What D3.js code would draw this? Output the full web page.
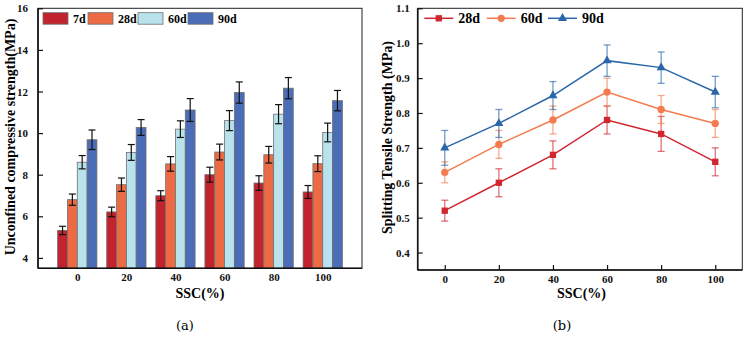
<!DOCTYPE html>
<html><head><meta charset="utf-8">
<script src="https://cdn.jsdelivr.net/npm/d3@7"></script>
<style>body{margin:0;background:#fff}svg{display:block}</style>
</head><body>
<script>
const ssc = [0, 20, 40, 60, 80, 100];
// (a) UCS bars
const ucsSeries = ["7d", "28d", "60d", "90d"];
const ucs7 = [5.32, 6.21, 6.99, 8.0, 7.6, 7.17];
const ucs7err = [0.2, 0.23, 0.24, 0.36, 0.35, 0.31];
const ucs28 = [6.8, 7.52, 8.52, 9.09, 8.96, 8.53];
const ucs28err = [0.27, 0.32, 0.35, 0.38, 0.4, 0.38];
const ucs60 = [8.6, 9.07, 10.19, 10.6, 10.91, 10.03];
const ucs60err = [0.32, 0.38, 0.4, 0.48, 0.46, 0.45];
const ucs90 = [9.68, 10.27, 11.11, 11.95, 12.16, 11.56];
const ucs90err = [0.47, 0.38, 0.55, 0.51, 0.51, 0.49];
const ucsTicks = [4, 6, 8, 10, 12, 14, 16];
const ucsColors = ["#c1232f", "#ec6b45", "#b8e3ed", "#4b6cb6"];
// (b) splitting tensile
const stsSeries = ["28d", "60d", "90d"];
const sts28 = [0.52, 0.60, 0.68, 0.78, 0.74, 0.66];
const sts28err = [0.03, 0.04, 0.04, 0.04, 0.05, 0.04];
const sts60 = [0.63, 0.71, 0.78, 0.86, 0.81, 0.77];
const sts60err = [0.03, 0.04, 0.04, 0.04, 0.04, 0.04];
const sts90 = [0.70, 0.77, 0.85, 0.95, 0.93, 0.86];
const sts90err = [0.05, 0.04, 0.04, 0.045, 0.045, 0.045];
const stsTicks = [0.4, 0.5, 0.6, 0.7, 0.8, 0.9, 1.0, 1.1];
const stsColors = ["#d0262f", "#f47b4f", "#2a67aa"];

const W = 747, H = 338;
const svg = d3.select("body").append("svg").attr("width", W).attr("height", H);
const FONT = "'Liberation Serif','Times New Roman',serif";

function frame(g, x0, x1, y0, y1) {
  g.append("rect").attr("x", x0).attr("y", y0).attr("width", x1 - x0).attr("height", y1 - y0)
    .attr("fill", "none").attr("stroke", "#222").attr("stroke-width", 1);
  g.append("line").attr("x1", x0).attr("x2", x0).attr("y1", y0).attr("y2", y1).attr("stroke", "#111").attr("stroke-width", 1.6);
  g.append("line").attr("x1", x0).attr("x2", x1).attr("y1", y1).attr("y2", y1).attr("stroke", "#111").attr("stroke-width", 1.6);
}

// ---------- Chart (a) ----------
{
  const L = 38, R = 362, T = 8.3, B = 268.3;
  const x = d3.scaleLinear().domain([-16, 116]).range([L, R]);
  const y = d3.scaleLinear().domain([3.5, 16]).range([B, T]);
  const g = svg.append("g");
  const vals = [ucs7, ucs28, ucs60, ucs90];
  const errs = [ucs7err, ucs28err, ucs60err, ucs90err];
  const bw = x(4) - x(0);
  vals.forEach((arr, si) => {
    arr.forEach((v, i) => {
      const cx = x(ssc[i]) + (si - 2) * bw;
      g.append("rect").attr("x", cx).attr("y", y(v)).attr("width", bw).attr("height", y(3.5) - y(v))
        .attr("fill", ucsColors[si]).attr("stroke", "#6f6f6f").attr("stroke-width", 0.8);
    });
  });
  vals.forEach((arr, si) => {
    arr.forEach((v, i) => {
      const cx = x(ssc[i]) + (si - 2) * bw + bw / 2;
      const e = errs[si][i];
      g.append("line").attr("x1", cx).attr("x2", cx).attr("y1", y(v - e)).attr("y2", y(v + e)).attr("stroke", "#111").attr("stroke-width", 1.2);
      [v - e, v + e].forEach(t => g.append("line").attr("x1", cx - 3.5).attr("x2", cx + 3.5).attr("y1", y(t)).attr("y2", y(t)).attr("stroke", "#111").attr("stroke-width", 1.2));
    });
  });
  frame(g, L, R, T, B);
  const ya = g.append("g").attr("transform", `translate(${L},0)`)
    .call(d3.axisLeft(y).tickValues(ucsTicks).tickSize(-5).tickPadding(10).tickFormat(d3.format("d")));
  ya.select(".domain").remove();
  ya.selectAll("line").attr("stroke", "#111").attr("stroke-width", 1.2);
  ya.selectAll("text").attr("font-family", FONT).attr("font-weight", "bold").attr("font-size", 11).attr("fill", "#111");
  const xa = g.append("g").attr("transform", `translate(0,${B})`)
    .call(d3.axisBottom(x).tickValues(ssc).tickSize(0).tickPadding(5).tickFormat(d3.format("d")));
  xa.select(".domain").remove();
  xa.selectAll("text").attr("font-family", FONT).attr("font-weight", "bold").attr("font-size", 11).attr("fill", "#111");
  g.append("text").attr("x", 200).attr("y", 298).attr("text-anchor", "middle")
    .attr("font-family", FONT).attr("font-weight", "bold").attr("font-size", 14).text("SSC(%)");
  g.append("text").attr("transform", `translate(15,137) rotate(-90)`).attr("text-anchor", "middle")
    .attr("font-family", FONT).attr("font-weight", "bold").attr("font-size", 14).text("Unconfined compressive strength(MPa)");
  // legend
  const lx = [43, 88, 138, 188];
  ucsSeries.forEach((s, i) => {
    g.append("rect").attr("x", lx[i]).attr("y", 12.7).attr("width", 25).attr("height", 11.5)
      .attr("fill", ucsColors[i]).attr("stroke", "#6f6f6f").attr("stroke-width", 0.8);
    g.append("text").attr("x", lx[i] + 30).attr("y", 22.5).attr("font-family", FONT).attr("font-weight", "bold")
      .attr("font-size", 12).text(s);
  });
  svg.append("text").attr("x", 185).attr("y", 330).attr("text-anchor", "middle")
    .attr("font-family", "'DejaVu Serif','Liberation Serif',serif").attr("font-size", 13).text("(a)");
}

// ---------- Chart (b) ----------
{
  const L = 417.7, R = 742.3, T = 8.3, B = 270;
  const x = d3.scaleLinear().domain([-10, 110]).range([L, R]);
  const y = d3.scaleLinear().domain([0.35, 1.1]).range([B, T]);
  const g = svg.append("g");
  const vals = [sts28, sts60, sts90];
  const errs = [sts28err, sts60err, sts90err];
  const line = d3.line().x((d, i) => x(ssc[i])).y(d => y(d));
  vals.forEach((arr, si) => {
    const c = stsColors[si];
    arr.forEach((v, i) => {
      const cx = x(ssc[i]), e = errs[si][i];
      g.append("line").attr("x1", cx).attr("x2", cx).attr("y1", y(v - e)).attr("y2", y(v + e)).attr("stroke", c).attr("stroke-opacity", 0.65).attr("stroke-width", 1.3);
      [v - e, v + e].forEach(t => g.append("line").attr("x1", cx - 3.5).attr("x2", cx + 3.5).attr("y1", y(t)).attr("y2", y(t)).attr("stroke", c).attr("stroke-opacity", 0.65).attr("stroke-width", 1.3));
    });
    g.append("path").datum(arr).attr("d", line).attr("fill", "none").attr("stroke", c).attr("stroke-width", 1.5);
  });
  const sym = [d3.symbolSquare, d3.symbolCircle, d3.symbolTriangle];
  const sz = [40, 42, 36];
  vals.forEach((arr, si) => {
    arr.forEach((v, i) => {
      g.append("path").attr("d", d3.symbol(sym[si], sz[si])()).attr("transform", `translate(${x(ssc[i])},${y(v)})`)
        .attr("fill", stsColors[si]);
    });
  });
  frame(g, L, R, T, B);
  const ya = g.append("g").attr("transform", `translate(${L},0)`)
    .call(d3.axisLeft(y).tickValues(stsTicks).tickSize(-5).tickPadding(8).tickFormat(d3.format(".1f")));
  ya.select(".domain").remove();
  ya.selectAll("line").attr("stroke", "#111").attr("stroke-width", 1.2);
  ya.selectAll("text").attr("font-family", FONT).attr("font-weight", "bold").attr("font-size", 11).attr("fill", "#111");
  const xa = g.append("g").attr("transform", `translate(0,${B})`)
    .call(d3.axisBottom(x).tickValues(ssc).tickSize(-5).tickPadding(5).tickFormat(d3.format("d")));
  xa.select(".domain").remove();
  xa.selectAll("line").attr("stroke", "#111").attr("stroke-width", 1.2);
  xa.selectAll("text").attr("font-family", FONT).attr("font-weight", "bold").attr("font-size", 11).attr("fill", "#111");
  g.append("text").attr("x", 581.5).attr("y", 298).attr("text-anchor", "middle")
    .attr("font-family", FONT).attr("font-weight", "bold").attr("font-size", 14).text("SSC(%)");
  g.append("text").attr("transform", `translate(392,137.5) rotate(-90)`).attr("text-anchor", "middle")
    .attr("font-family", FONT).attr("font-weight", "bold").attr("font-size", 14).text("Splitting Tensile Strength (MPa)");
  const lx = [424.3, 486.7, 548];
  stsSeries.forEach((s, i) => {
    g.append("line").attr("x1", lx[i]).attr("x2", lx[i] + 29).attr("y1", 18.3).attr("y2", 18.3).attr("stroke", stsColors[i]).attr("stroke-width", 1.5);
    g.append("path").attr("d", d3.symbol(sym[i], sz[i])()).attr("transform", `translate(${lx[i] + 14.5},18.3)`).attr("fill", stsColors[i]);
    g.append("text").attr("x", lx[i] + 34).attr("y", 23).attr("font-family", FONT).attr("font-weight", "bold")
      .attr("font-size", 14).text(s);
  });
  svg.append("text").attr("x", 562).attr("y", 330).attr("text-anchor", "middle")
    .attr("font-family", "'DejaVu Serif','Liberation Serif',serif").attr("font-size", 13).text("(b)");
}
</script>
</body></html>
